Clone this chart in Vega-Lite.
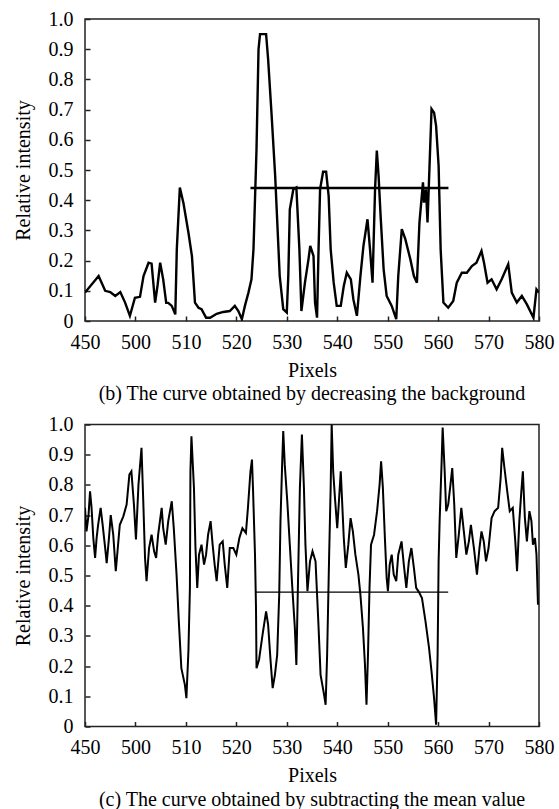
{
  "$schema": "https://vega.github.io/schema/vega-lite/v6.json",
  "background": "white",
  "padding": {"left": 12, "top": 8, "right": 0, "bottom": 0},
  "config": {
    "view": {"stroke": "#222", "strokeWidth": 1.5},
    "title": {"font": "Liberation Serif", "fontSize": 20, "fontWeight": "normal", "color": "#000"}
  },
  "datasets": {
    "b": [
      {"px":490,"ri":0.094},{"px":492.7,"ri":0.149},{"px":494.0,"ri":0.10},{"px":495.0,"ri":0.096},{"px":496.0,"ri":0.083},{"px":497.0,"ri":0.096},{"px":497.95,"ri":0.061},{"px":498.9,"ri":0.017},{"px":499.9,"ri":0.077},{"px":500.9,"ri":0.08},{"px":501.6,"ri":0.149},{"px":502.6,"ri":0.193},{"px":503.2,"ri":0.19},{"px":503.9,"ri":0.061},{"px":504.4,"ri":0.12},{"px":504.9,"ri":0.193},{"px":505.5,"ri":0.138},{"px":506.1,"ri":0.06},{"px":506.5,"ri":0.06},{"px":507.2,"ri":0.05},{"px":507.9,"ri":0.022},{"px":508.2,"ri":0.238},{"px":508.8,"ri":0.442},{"px":509.5,"ri":0.392},{"px":510.5,"ri":0.293},{"px":511.2,"ri":0.215},{"px":511.8,"ri":0.061},{"px":512.5,"ri":0.044},{"px":513.1,"ri":0.039},{"px":514.0,"ri":0.011},{"px":514.8,"ri":0.011},{"px":516.1,"ri":0.024},{"px":517.4,"ri":0.03},{"px":518.7,"ri":0.033},{"px":519.7,"ri":0.05},{"px":520.4,"ri":0.033},{"px":521.1,"ri":0.006},{"px":521.7,"ri":0.05},{"px":522.4,"ri":0.094},{"px":523.0,"ri":0.138},{"px":523.4,"ri":0.238},{"px":523.7,"ri":0.403},{"px":524.0,"ri":0.569},{"px":524.4,"ri":0.9},{"px":524.7,"ri":0.95},{"px":525.0,"ri":0.95},{"px":525.9,"ri":0.95},{"px":526.3,"ri":0.867},{"px":527.0,"ri":0.68},{"px":527.7,"ri":0.48},{"px":528.0,"ri":0.37},{"px":528.6,"ri":0.149},{"px":529.3,"ri":0.039},{"px":530.0,"ri":0.028},{"px":530.3,"ri":0.149},{"px":530.6,"ri":0.37},{"px":531.3,"ri":0.436},{"px":531.9,"ri":0.442},{"px":532.5,"ri":0.238},{"px":532.9,"ri":0.033},{"px":533.6,"ri":0.127},{"px":534.3,"ri":0.204},{"px":534.65,"ri":0.249},{"px":535.3,"ri":0.215},{"px":535.6,"ri":0.061},{"px":536.0,"ri":0.011},{"px":536.3,"ri":0.238},{"px":536.6,"ri":0.436},{"px":537.2,"ri":0.494},{"px":537.8,"ri":0.494},{"px":538.3,"ri":0.414},{"px":538.7,"ri":0.238},{"px":539.3,"ri":0.127},{"px":539.9,"ri":0.05},{"px":540.7,"ri":0.05},{"px":541.3,"ri":0.116},{"px":541.9,"ri":0.16},{"px":542.7,"ri":0.138},{"px":543.2,"ri":0.072},{"px":543.9,"ri":0.017},{"px":544.6,"ri":0.149},{"px":545.2,"ri":0.249},{"px":546.0,"ri":0.337},{"px":546.5,"ri":0.238},{"px":547.0,"ri":0.127},{"px":547.5,"ri":0.436},{"px":547.85,"ri":0.564},{"px":548.2,"ri":0.48},{"px":548.6,"ri":0.348},{"px":549.2,"ri":0.171},{"px":549.8,"ri":0.083},{"px":550.8,"ri":0.05},{"px":551.7,"ri":0.006},{"px":552.1,"ri":0.149},{"px":552.8,"ri":0.304},{"px":553.5,"ri":0.271},{"px":554.5,"ri":0.204},{"px":555.2,"ri":0.149},{"px":555.8,"ri":0.127},{"px":556.3,"ri":0.326},{"px":557.0,"ri":0.459},{"px":557.2,"ri":0.392},{"px":557.6,"ri":0.436},{"px":557.9,"ri":0.326},{"px":558.3,"ri":0.514},{"px":558.7,"ri":0.702},{"px":559.2,"ri":0.69},{"px":559.6,"ri":0.646},{"px":560.1,"ri":0.514},{"px":560.5,"ri":0.238},{"px":561.05,"ri":0.061},{"px":562.0,"ri":0.044},{"px":563.0,"ri":0.066},{"px":563.7,"ri":0.127},{"px":564.7,"ri":0.16},{"px":565.7,"ri":0.16},{"px":566.7,"ri":0.182},{"px":567.6,"ri":0.193},{"px":568.6,"ri":0.232},{"px":569.1,"ri":0.193},{"px":569.8,"ri":0.127},{"px":570.6,"ri":0.138},{"px":571.6,"ri":0.105},{"px":572.6,"ri":0.138},{"px":573.9,"ri":0.188},{"px":574.6,"ri":0.094},{"px":575.6,"ri":0.061},{"px":576.6,"ri":0.083},{"px":577.6,"ri":0.055},{"px":578.9,"ri":0.011},{"px":579.5,"ri":0.105},{"px":580,"ri":0.094}
    ],
    "c": [
      {"px":490.0,"ri":0.724},{"px":490.3,"ri":0.646},{"px":490.7,"ri":0.70},{"px":491.0,"ri":0.779},{"px":491.3,"ri":0.724},{"px":491.65,"ri":0.624},{"px":492.0,"ri":0.558},{"px":492.3,"ri":0.624},{"px":492.6,"ri":0.668},{"px":493.1,"ri":0.724},{"px":493.5,"ri":0.668},{"px":494.0,"ri":0.591},{"px":494.3,"ri":0.541},{"px":494.75,"ri":0.624},{"px":495.1,"ri":0.70},{"px":495.6,"ri":0.635},{"px":496.1,"ri":0.514},{"px":496.5,"ri":0.591},{"px":496.9,"ri":0.668},{"px":497.6,"ri":0.696},{"px":498.25,"ri":0.735},{"px":498.8,"ri":0.834},{"px":499.2,"ri":0.845},{"px":499.7,"ri":0.735},{"px":500.1,"ri":0.619},{"px":500.6,"ri":0.801},{"px":501.2,"ri":0.923},{"px":501.55,"ri":0.746},{"px":501.9,"ri":0.558},{"px":502.2,"ri":0.481},{"px":502.7,"ri":0.591},{"px":503.2,"ri":0.635},{"px":503.7,"ri":0.58},{"px":504.1,"ri":0.558},{"px":504.5,"ri":0.635},{"px":505.2,"ri":0.724},{"px":505.5,"ri":0.657},{"px":506.0,"ri":0.602},{"px":506.5,"ri":0.68},{"px":507.2,"ri":0.746},{"px":507.6,"ri":0.657},{"px":508.15,"ri":0.503},{"px":508.6,"ri":0.348},{"px":509.1,"ri":0.193},{"px":509.8,"ri":0.138},{"px":510.1,"ri":0.094},{"px":510.5,"ri":0.249},{"px":510.8,"ri":0.459},{"px":510.9,"ri":0.845},{"px":511.1,"ri":0.961},{"px":511.6,"ri":0.79},{"px":511.9,"ri":0.591},{"px":512.25,"ri":0.459},{"px":512.6,"ri":0.569},{"px":513.1,"ri":0.602},{"px":513.6,"ri":0.536},{"px":514.0,"ri":0.569},{"px":514.4,"ri":0.635},{"px":514.9,"ri":0.68},{"px":515.3,"ri":0.602},{"px":515.7,"ri":0.536},{"px":516.1,"ri":0.481},{"px":516.7,"ri":0.602},{"px":517.3,"ri":0.613},{"px":517.7,"ri":0.536},{"px":518.2,"ri":0.459},{"px":518.7,"ri":0.591},{"px":519.4,"ri":0.591},{"px":520.0,"ri":0.569},{"px":520.6,"ri":0.624},{"px":521.2,"ri":0.657},{"px":521.9,"ri":0.641},{"px":522.3,"ri":0.724},{"px":522.8,"ri":0.845},{"px":523.1,"ri":0.884},{"px":523.3,"ri":0.79},{"px":523.7,"ri":0.569},{"px":523.9,"ri":0.392},{"px":524.0,"ri":0.193},{"px":524.5,"ri":0.221},{"px":525.2,"ri":0.304},{"px":525.9,"ri":0.381},{"px":526.3,"ri":0.337},{"px":526.8,"ri":0.215},{"px":527.2,"ri":0.127},{"px":527.65,"ri":0.171},{"px":528.1,"ri":0.238},{"px":528.5,"ri":0.436},{"px":528.75,"ri":0.68},{"px":529.1,"ri":0.878},{"px":529.3,"ri":0.978},{"px":529.6,"ri":0.867},{"px":530.1,"ri":0.746},{"px":530.6,"ri":0.602},{"px":531.1,"ri":0.459},{"px":531.6,"ri":0.326},{"px":531.9,"ri":0.204},{"px":532.2,"ri":0.459},{"px":532.6,"ri":0.79},{"px":533.0,"ri":0.967},{"px":533.4,"ri":0.79},{"px":533.7,"ri":0.602},{"px":534.1,"ri":0.448},{"px":534.6,"ri":0.547},{"px":535.1,"ri":0.58},{"px":535.7,"ri":0.547},{"px":536.25,"ri":0.348},{"px":536.7,"ri":0.171},{"px":537.4,"ri":0.105},{"px":537.7,"ri":0.072},{"px":538.0,"ri":0.238},{"px":538.4,"ri":0.569},{"px":538.7,"ri":0.79},{"px":538.9,"ri":1.0},{"px":539.2,"ri":0.845},{"px":539.55,"ri":0.757},{"px":540.0,"ri":0.657},{"px":540.3,"ri":0.735},{"px":540.7,"ri":0.845},{"px":541.0,"ri":0.735},{"px":541.3,"ri":0.624},{"px":541.7,"ri":0.525},{"px":542.2,"ri":0.602},{"px":542.65,"ri":0.69},{"px":543.1,"ri":0.646},{"px":543.6,"ri":0.569},{"px":544.2,"ri":0.503},{"px":544.6,"ri":0.436},{"px":545.1,"ri":0.326},{"px":545.5,"ri":0.204},{"px":545.8,"ri":0.072},{"px":546.1,"ri":0.238},{"px":546.4,"ri":0.459},{"px":546.7,"ri":0.602},{"px":547.3,"ri":0.635},{"px":547.9,"ri":0.713},{"px":548.4,"ri":0.801},{"px":548.7,"ri":0.878},{"px":549.05,"ri":0.79},{"px":549.45,"ri":0.624},{"px":549.8,"ri":0.492},{"px":550.05,"ri":0.448},{"px":550.4,"ri":0.536},{"px":550.8,"ri":0.569},{"px":551.2,"ri":0.503},{"px":551.7,"ri":0.481},{"px":552.1,"ri":0.569},{"px":552.75,"ri":0.613},{"px":553.2,"ri":0.536},{"px":553.7,"ri":0.459},{"px":554.2,"ri":0.547},{"px":554.7,"ri":0.591},{"px":555.2,"ri":0.525},{"px":555.65,"ri":0.459},{"px":556.2,"ri":0.445},{"px":556.8,"ri":0.425},{"px":557.5,"ri":0.348},{"px":558.2,"ri":0.26},{"px":558.7,"ri":0.182},{"px":559.2,"ri":0.094},{"px":559.6,"ri":0.006},{"px":559.9,"ri":0.238},{"px":560.1,"ri":0.547},{"px":560.3,"ri":0.68},{"px":560.7,"ri":0.878},{"px":560.9,"ri":0.99},{"px":561.3,"ri":0.845},{"px":561.6,"ri":0.713},{"px":562.0,"ri":0.735},{"px":562.45,"ri":0.801},{"px":562.8,"ri":0.856},{"px":563.2,"ri":0.735},{"px":563.6,"ri":0.558},{"px":564.1,"ri":0.635},{"px":564.6,"ri":0.724},{"px":565.1,"ri":0.646},{"px":565.6,"ri":0.569},{"px":566.1,"ri":0.613},{"px":566.5,"ri":0.668},{"px":567.1,"ri":0.591},{"px":567.7,"ri":0.503},{"px":568.2,"ri":0.591},{"px":568.6,"ri":0.646},{"px":569.05,"ri":0.613},{"px":569.5,"ri":0.547},{"px":570.0,"ri":0.591},{"px":570.6,"ri":0.69},{"px":571.2,"ri":0.713},{"px":571.9,"ri":0.724},{"px":572.4,"ri":0.823},{"px":572.7,"ri":0.923},{"px":573.15,"ri":0.856},{"px":573.7,"ri":0.779},{"px":574.2,"ri":0.713},{"px":574.8,"ri":0.724},{"px":575.3,"ri":0.613},{"px":575.65,"ri":0.514},{"px":576.1,"ri":0.68},{"px":576.5,"ri":0.779},{"px":576.8,"ri":0.845},{"px":577.2,"ri":0.69},{"px":577.6,"ri":0.613},{"px":578.1,"ri":0.713},{"px":578.5,"ri":0.68},{"px":578.8,"ri":0.602},{"px":579.2,"ri":0.624},{"px":579.5,"ri":0.569},{"px":579.8,"ri":0.403}
    ],
    "tb": [{"x1":522.8,"x2":562.05,"y":0.44}],
    "tc": [{"x1":523.7,"x2":562.0,"y":0.445}]
  },
  "bounds": "flush",
  "spacing": 103.5,
  "vconcat": [
    {
      "width": 454, "height": 302,
      "title": {"text": "(b) The curve obtained by decreasing the background", "orient": "bottom", "anchor": "middle", "frame": "group", "offset": 4},
      "layer": [
        {
          "data": {"name": "tb"},
          "mark": {"type": "rule", "color": "black", "strokeWidth": 2.5},
          "encoding": {
            "x": {"field": "x1", "type": "quantitative", "scale": {"domain": [490, 580], "nice": false, "zero": false},
                  "axis": {"values": [490,500,510,520,530,540,550,560,570,580], "labelExpr": "datum.value == 490 ? '450' : datum.label", "title": "Pixels", "labelPadding": 16, "titlePadding": 8, "labelFont": "Liberation Serif", "labelFontSize": 20, "labelColor": "#000", "titleFont": "Liberation Serif", "titleFontSize": 20, "titleFontWeight": "normal", "titleColor": "#000", "domain": false, "grid": false, "tickColor": "#222", "tickSize": -5, "tickWidth": 1.5, "labelOverlap": false, "labelFlush": false, "labelBound": false}},
            "x2": {"field": "x2"},
            "y": {"field": "y", "type": "quantitative", "scale": {"domain": [0, 1], "nice": false},
                  "axis": {"values": [0,0.1,0.2,0.3,0.4,0.5,0.6,0.7,0.8,0.9,1.0], "labelExpr": "datum.value == 0 ? '0' : format(datum.value, '.1f')", "title": "Relative intensity", "labelPadding": 17, "titlePadding": 15, "labelFont": "Liberation Serif", "labelFontSize": 20, "labelColor": "#000", "titleFont": "Liberation Serif", "titleFontSize": 20, "titleFontWeight": "normal", "titleColor": "#000", "domain": false, "grid": false, "tickColor": "#222", "tickSize": -5, "tickWidth": 1.5, "labelOverlap": false, "labelFlush": false, "labelBound": false}}
          }
        },
        {
          "data": {"name": "b"},
          "mark": {"type": "line", "color": "black", "strokeWidth": 2.4, "clip": true},
          "encoding": {
            "x": {"field": "px", "type": "quantitative",
                  "axis": {"values": [490,500,510,520,530,540,550,560,570,580], "labelExpr": "datum.value == 490 ? '450' : datum.label", "title": "Pixels", "labelPadding": 16, "titlePadding": 8, "labelFont": "Liberation Serif", "labelFontSize": 20, "labelColor": "#000", "titleFont": "Liberation Serif", "titleFontSize": 20, "titleFontWeight": "normal", "titleColor": "#000", "domain": false, "grid": false, "tickColor": "#222", "tickSize": -5, "tickWidth": 1.5, "labelOverlap": false, "labelFlush": false, "labelBound": false}},
            "y": {"field": "ri", "type": "quantitative",
                  "axis": {"values": [0,0.1,0.2,0.3,0.4,0.5,0.6,0.7,0.8,0.9,1.0], "labelExpr": "datum.value == 0 ? '0' : format(datum.value, '.1f')", "title": "Relative intensity", "labelPadding": 17, "titlePadding": 15, "labelFont": "Liberation Serif", "labelFontSize": 20, "labelColor": "#000", "titleFont": "Liberation Serif", "titleFontSize": 20, "titleFontWeight": "normal", "titleColor": "#000", "domain": false, "grid": false, "tickColor": "#222", "tickSize": -5, "tickWidth": 1.5, "labelOverlap": false, "labelFlush": false, "labelBound": false}}
          }
        }
      ]
    },
    {
      "width": 454, "height": 302,
      "title": {"text": "(c) The curve obtained by subtracting the mean value", "orient": "bottom", "anchor": "middle", "frame": "group", "offset": 4},
      "layer": [
        {
          "data": {"name": "tc"},
          "mark": {"type": "rule", "color": "black", "strokeWidth": 1.3},
          "encoding": {
            "x": {"field": "x1", "type": "quantitative", "scale": {"domain": [490, 580], "nice": false, "zero": false},
                  "axis": {"values": [490,500,510,520,530,540,550,560,570,580], "labelExpr": "datum.value == 490 ? '450' : datum.label", "title": "Pixels", "labelPadding": 16, "titlePadding": 8, "labelFont": "Liberation Serif", "labelFontSize": 20, "labelColor": "#000", "titleFont": "Liberation Serif", "titleFontSize": 20, "titleFontWeight": "normal", "titleColor": "#000", "domain": false, "grid": false, "tickColor": "#222", "tickSize": -5, "tickWidth": 1.5, "labelOverlap": false, "labelFlush": false, "labelBound": false}},
            "x2": {"field": "x2"},
            "y": {"field": "y", "type": "quantitative", "scale": {"domain": [0, 1], "nice": false},
                  "axis": {"values": [0,0.1,0.2,0.3,0.4,0.5,0.6,0.7,0.8,0.9,1.0], "labelExpr": "datum.value == 0 ? '0' : format(datum.value, '.1f')", "title": "Relative intensity", "labelPadding": 17, "titlePadding": 15, "labelFont": "Liberation Serif", "labelFontSize": 20, "labelColor": "#000", "titleFont": "Liberation Serif", "titleFontSize": 20, "titleFontWeight": "normal", "titleColor": "#000", "domain": false, "grid": false, "tickColor": "#222", "tickSize": -5, "tickWidth": 1.5, "labelOverlap": false, "labelFlush": false, "labelBound": false}}
          }
        },
        {
          "data": {"name": "c"},
          "mark": {"type": "line", "color": "black", "strokeWidth": 2.0, "clip": true},
          "encoding": {
            "x": {"field": "px", "type": "quantitative",
                  "axis": {"values": [490,500,510,520,530,540,550,560,570,580], "labelExpr": "datum.value == 490 ? '450' : datum.label", "title": "Pixels", "labelPadding": 16, "titlePadding": 8, "labelFont": "Liberation Serif", "labelFontSize": 20, "labelColor": "#000", "titleFont": "Liberation Serif", "titleFontSize": 20, "titleFontWeight": "normal", "titleColor": "#000", "domain": false, "grid": false, "tickColor": "#222", "tickSize": -5, "tickWidth": 1.5, "labelOverlap": false, "labelFlush": false, "labelBound": false}},
            "y": {"field": "ri", "type": "quantitative",
                  "axis": {"values": [0,0.1,0.2,0.3,0.4,0.5,0.6,0.7,0.8,0.9,1.0], "labelExpr": "datum.value == 0 ? '0' : format(datum.value, '.1f')", "title": "Relative intensity", "labelPadding": 17, "titlePadding": 15, "labelFont": "Liberation Serif", "labelFontSize": 20, "labelColor": "#000", "titleFont": "Liberation Serif", "titleFontSize": 20, "titleFontWeight": "normal", "titleColor": "#000", "domain": false, "grid": false, "tickColor": "#222", "tickSize": -5, "tickWidth": 1.5, "labelOverlap": false, "labelFlush": false, "labelBound": false}}
          }
        }
      ]
    }
  ]
}
